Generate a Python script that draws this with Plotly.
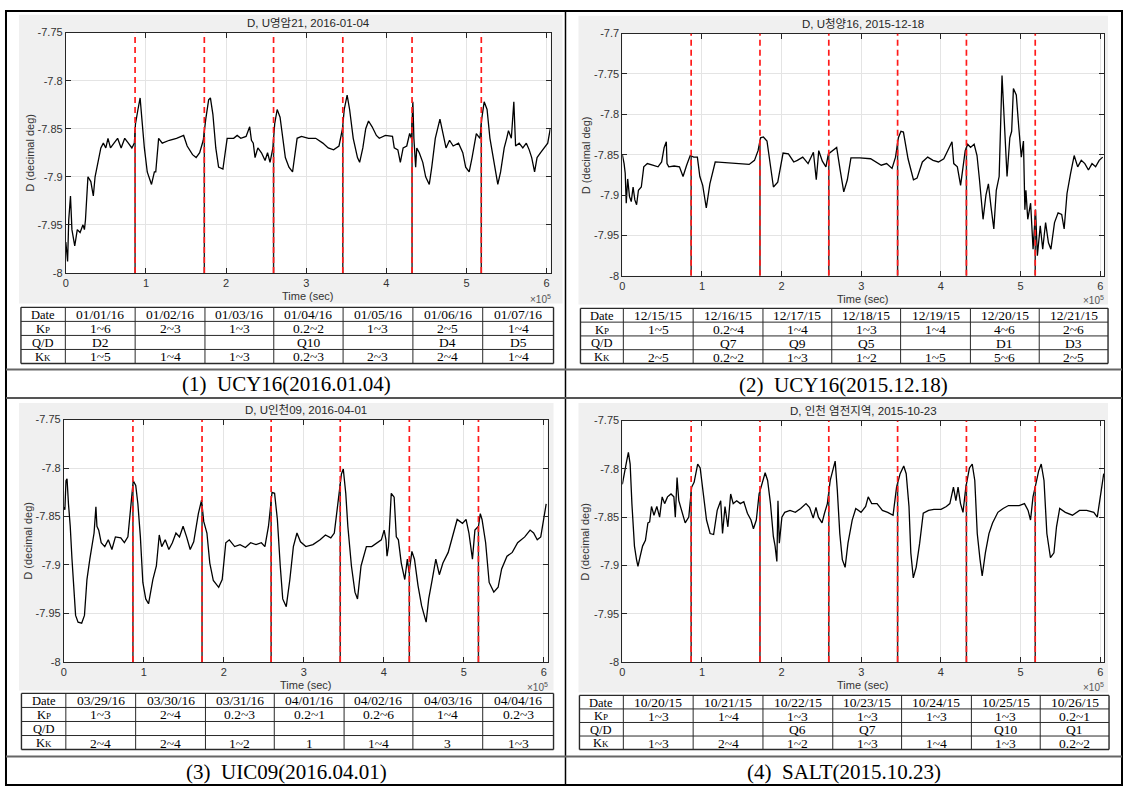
import plotly.graph_objects as go
import numpy as np

W, H = 1123, 792

# ---------------- data ----------------
# time in units of 1e5 s, D in decimal degrees
t1 = [0.000, 0.022, 0.036, 0.058, 0.076, 0.111, 0.143, 0.178, 0.214, 0.232, 0.245, 0.276, 0.312, 0.343, 0.365,
      0.392, 0.437, 0.468, 0.499, 0.526, 0.557, 0.601, 0.646, 0.690, 0.735, 0.780, 0.824, 0.855, 0.869, 0.900,
      0.927, 0.949, 0.980, 1.016, 1.069, 1.105, 1.122, 1.158, 1.203, 1.292, 1.381, 1.470, 1.514, 1.581, 1.626,
      1.670, 1.715, 1.746, 1.782, 1.804, 1.835, 1.871, 1.906, 1.960, 1.991, 2.013, 2.094, 2.138, 2.183, 2.249,
      2.294, 2.316, 2.339, 2.361, 2.396, 2.441, 2.486, 2.517, 2.548, 2.584, 2.606, 2.637, 2.673, 2.708, 2.739,
      2.784, 2.829, 2.886, 2.940, 3.029, 3.118, 3.207, 3.274, 3.341, 3.408, 3.452, 3.474, 3.510, 3.541, 3.586,
      3.639, 3.666, 3.706, 3.742, 3.777, 3.822, 3.875, 3.911, 3.987, 4.076, 4.098, 4.143, 4.174, 4.209, 4.254,
      4.290, 4.312, 4.330, 4.343, 4.365, 4.379, 4.410, 4.454, 4.490, 4.535, 4.566, 4.610, 4.668, 4.713, 4.744,
      4.788, 4.833, 4.900, 4.953, 4.989, 5.033, 5.069, 5.122, 5.167, 5.189, 5.220, 5.256, 5.292, 5.336, 5.390,
      5.425, 5.470, 5.501, 5.523, 5.559, 5.590, 5.612, 5.657, 5.702, 5.746, 5.782, 5.813, 5.849, 5.880, 5.924,
      5.969, 6.013, 6.045]
d1 = [-7.968, -7.988, -7.945, -7.920, -7.955, -7.972, -7.955, -7.958, -7.950, -7.955, -7.945, -7.900, -7.905, -7.920, -7.900,
      -7.890, -7.870, -7.865, -7.870, -7.860, -7.870, -7.865, -7.860, -7.870, -7.860, -7.865, -7.870, -7.865, -7.845, -7.830,
      -7.818, -7.840, -7.870, -7.895, -7.908, -7.895, -7.895, -7.860, -7.865, -7.862, -7.860, -7.857, -7.868, -7.877, -7.880,
      -7.875, -7.862, -7.840, -7.820, -7.818, -7.835, -7.870, -7.890, -7.892, -7.875, -7.860, -7.860, -7.857, -7.860, -7.858,
      -7.848, -7.862, -7.865, -7.880, -7.870, -7.875, -7.883, -7.875, -7.885, -7.870, -7.845, -7.830, -7.838, -7.860, -7.880,
      -7.890, -7.895, -7.860, -7.858, -7.860, -7.860, -7.865, -7.870, -7.872, -7.868, -7.850, -7.830, -7.815, -7.830, -7.860,
      -7.880, -7.885, -7.870, -7.850, -7.842, -7.848, -7.857, -7.860, -7.857, -7.858, -7.870, -7.872, -7.885, -7.870, -7.868,
      -7.855, -7.860, -7.822, -7.860, -7.890, -7.870, -7.875, -7.885, -7.900, -7.908, -7.890, -7.860, -7.840, -7.860, -7.870,
      -7.862, -7.868, -7.865, -7.875, -7.890, -7.895, -7.880, -7.855, -7.860, -7.840, -7.822, -7.830, -7.860, -7.880, -7.908,
      -7.895, -7.870, -7.860, -7.852, -7.860, -7.822, -7.868, -7.865, -7.870, -7.865, -7.872, -7.880, -7.895, -7.880, -7.875,
      -7.870, -7.865, -7.850]

t2 = [0.000, 0.022, 0.036, 0.049, 0.067, 0.090, 0.112, 0.135, 0.157, 0.179, 0.202, 0.238, 0.269, 0.314, 0.381,
      0.448, 0.493, 0.525, 0.552, 0.561, 0.583, 0.650, 0.717, 0.762, 0.807, 0.852, 0.897, 0.942, 0.973, 1.009,
      1.054, 1.099, 1.166, 1.278, 1.457, 1.592, 1.659, 1.704, 1.735, 1.771, 1.816, 1.852, 1.897, 1.951, 2.018,
      2.085, 2.152, 2.197, 2.265, 2.332, 2.399, 2.435, 2.466, 2.511, 2.556, 2.587, 2.646, 2.691, 2.735, 2.780,
      2.825, 2.870, 2.982, 3.117, 3.251, 3.318, 3.386, 3.430, 3.466, 3.498, 3.529, 3.587, 3.655, 3.700, 3.767,
      3.834, 3.901, 3.969, 4.036, 4.081, 4.139, 4.161, 4.206, 4.247, 4.274, 4.305, 4.336, 4.372, 4.417, 4.453,
      4.484, 4.529, 4.565, 4.596, 4.628, 4.664, 4.695, 4.731, 4.767, 4.798, 4.830, 4.865, 4.888, 4.910, 4.946,
      4.978, 5.009, 5.036, 5.054, 5.067, 5.090, 5.126, 5.157, 5.188, 5.211, 5.247, 5.278, 5.314, 5.350, 5.381,
      5.426, 5.471, 5.516, 5.547, 5.583, 5.628, 5.673, 5.717, 5.762, 5.807, 5.852, 5.897, 5.942, 5.987, 6.031]
d2 = [-7.850, -7.861, -7.873, -7.910, -7.880, -7.902, -7.908, -7.890, -7.906, -7.912, -7.894, -7.890, -7.865, -7.861, -7.863,
      -7.865, -7.859, -7.841, -7.834, -7.861, -7.865, -7.864, -7.865, -7.877, -7.863, -7.851, -7.853, -7.853, -7.877, -7.888,
      -7.916, -7.886, -7.859, -7.860, -7.861, -7.862, -7.857, -7.845, -7.829, -7.828, -7.833, -7.861, -7.890, -7.884, -7.848,
      -7.849, -7.859, -7.857, -7.853, -7.861, -7.847, -7.881, -7.845, -7.858, -7.865, -7.849, -7.845, -7.841, -7.869, -7.896,
      -7.881, -7.854, -7.854, -7.855, -7.863, -7.861, -7.867, -7.853, -7.829, -7.821, -7.822, -7.855, -7.881, -7.879, -7.859,
      -7.853, -7.857, -7.859, -7.855, -7.845, -7.834, -7.861, -7.865, -7.888, -7.865, -7.845, -7.837, -7.841, -7.837, -7.851,
      -7.881, -7.930, -7.900, -7.886, -7.914, -7.942, -7.894, -7.877, -7.752, -7.821, -7.877, -7.829, -7.821, -7.768, -7.776,
      -7.817, -7.853, -7.833, -7.918, -7.894, -7.930, -7.910, -7.967, -7.918, -7.975, -7.938, -7.967, -7.934, -7.959, -7.967,
      -7.934, -7.922, -7.924, -7.942, -7.898, -7.873, -7.851, -7.865, -7.857, -7.861, -7.869, -7.861, -7.865, -7.857, -7.853]

t3 = [0.000, 0.013, 0.027, 0.040, 0.058, 0.080, 0.102, 0.125, 0.147, 0.178, 0.223, 0.258, 0.289, 0.325, 0.356,
      0.378, 0.401, 0.414, 0.436, 0.467, 0.512, 0.556, 0.601, 0.645, 0.712, 0.757, 0.801, 0.846, 0.868, 0.899,
      0.926, 0.957, 0.988, 1.024, 1.059, 1.113, 1.157, 1.193, 1.224, 1.268, 1.313, 1.357, 1.402, 1.446, 1.491,
      1.535, 1.580, 1.624, 1.682, 1.722, 1.749, 1.789, 1.825, 1.869, 1.936, 1.980, 2.025, 2.069, 2.136, 2.203,
      2.270, 2.336, 2.403, 2.470, 2.514, 2.559, 2.603, 2.635, 2.670, 2.706, 2.737, 2.781, 2.826, 2.870, 2.915,
      2.959, 3.026, 3.115, 3.204, 3.271, 3.338, 3.382, 3.427, 3.471, 3.494, 3.525, 3.551, 3.596, 3.640, 3.672,
      3.716, 3.783, 3.850, 3.916, 3.970, 4.005, 4.028, 4.041, 4.059, 4.094, 4.130, 4.157, 4.183, 4.219, 4.263,
      4.295, 4.317, 4.352, 4.384, 4.428, 4.473, 4.530, 4.562, 4.606, 4.651, 4.695, 4.740, 4.806, 4.873, 4.918,
      4.984, 5.029, 5.065, 5.109, 5.140, 5.185, 5.207, 5.229, 5.274, 5.318, 5.376, 5.430, 5.474, 5.541, 5.607,
      5.674, 5.763, 5.830, 5.874, 5.919, 5.963, 5.999, 6.031]
d3 = [-7.840, -7.843, -7.813, -7.811, -7.837, -7.860, -7.894, -7.928, -7.952, -7.959, -7.960, -7.952, -7.915, -7.894, -7.877,
      -7.867, -7.840, -7.860, -7.864, -7.877, -7.881, -7.874, -7.884, -7.871, -7.872, -7.877, -7.871, -7.836, -7.813, -7.818,
      -7.837, -7.871, -7.918, -7.935, -7.940, -7.915, -7.901, -7.869, -7.881, -7.874, -7.884, -7.877, -7.867, -7.871, -7.860,
      -7.871, -7.884, -7.876, -7.847, -7.833, -7.855, -7.867, -7.898, -7.916, -7.923, -7.915, -7.877, -7.874, -7.881, -7.879,
      -7.882, -7.877, -7.879, -7.877, -7.881, -7.860, -7.825, -7.826, -7.853, -7.901, -7.935, -7.943, -7.915, -7.881, -7.867,
      -7.876, -7.881, -7.879, -7.874, -7.869, -7.872, -7.867, -7.836, -7.806, -7.801, -7.826, -7.860, -7.901, -7.928, -7.935,
      -7.901, -7.881, -7.881, -7.877, -7.874, -7.864, -7.874, -7.891, -7.881, -7.826, -7.830, -7.871, -7.874, -7.898, -7.915,
      -7.894, -7.908, -7.886, -7.894, -7.921, -7.942, -7.959, -7.935, -7.915, -7.894, -7.910, -7.898, -7.887, -7.867, -7.853,
      -7.857, -7.853, -7.867, -7.894, -7.864, -7.860, -7.847, -7.853, -7.877, -7.918, -7.928, -7.923, -7.904, -7.891, -7.887,
      -7.877, -7.871, -7.864, -7.867, -7.874, -7.871, -7.853, -7.837]

t4 = [0.000, 0.022, 0.054, 0.076, 0.098, 0.120, 0.152, 0.178, 0.196, 0.223, 0.254, 0.290, 0.321, 0.343, 0.366,
      0.397, 0.433, 0.468, 0.500, 0.531, 0.567, 0.611, 0.647, 0.665, 0.687, 0.709, 0.745, 0.789, 0.834, 0.870,
      0.901, 0.946, 0.977, 1.012, 1.057, 1.102, 1.146, 1.191, 1.235, 1.258, 1.289, 1.325, 1.360, 1.392, 1.436,
      1.481, 1.525, 1.570, 1.615, 1.646, 1.682, 1.717, 1.748, 1.793, 1.824, 1.860, 1.896, 1.918, 1.940, 1.954,
      1.971, 2.003, 2.039, 2.105, 2.172, 2.239, 2.306, 2.351, 2.396, 2.431, 2.462, 2.507, 2.538, 2.574, 2.610,
      2.641, 2.672, 2.699, 2.730, 2.762, 2.797, 2.833, 2.886, 2.931, 2.997, 3.055, 3.087, 3.131, 3.198, 3.265,
      3.332, 3.399, 3.443, 3.488, 3.533, 3.564, 3.599, 3.622, 3.653, 3.689, 3.733, 3.778, 3.845, 3.912, 4.001,
      4.068, 4.112, 4.157, 4.188, 4.215, 4.246, 4.277, 4.313, 4.358, 4.393, 4.425, 4.456, 4.491, 4.518, 4.558,
      4.603, 4.648, 4.715, 4.781, 4.848, 4.915, 4.982, 5.049, 5.094, 5.125, 5.156, 5.191, 5.227, 5.259, 5.294,
      5.330, 5.375, 5.419, 5.451, 5.491, 5.562, 5.651, 5.740, 5.830, 5.919, 5.963, 6.008, 6.044]
d4 = [-7.816, -7.805, -7.792, -7.783, -7.795, -7.836, -7.880, -7.894, -7.901, -7.891, -7.880, -7.874, -7.856, -7.855, -7.839,
      -7.848, -7.839, -7.850, -7.829, -7.836, -7.829, -7.826, -7.829, -7.850, -7.809, -7.833, -7.843, -7.856, -7.850, -7.819,
      -7.814, -7.795, -7.799, -7.822, -7.853, -7.867, -7.868, -7.843, -7.833, -7.867, -7.839, -7.860, -7.826, -7.836, -7.833,
      -7.836, -7.834, -7.846, -7.853, -7.862, -7.853, -7.826, -7.816, -7.804, -7.812, -7.836, -7.870, -7.880, -7.896, -7.833,
      -7.877, -7.850, -7.845, -7.843, -7.845, -7.841, -7.836, -7.840, -7.851, -7.840, -7.850, -7.856, -7.846, -7.836, -7.812,
      -7.802, -7.792, -7.822, -7.867, -7.894, -7.902, -7.877, -7.853, -7.841, -7.845, -7.839, -7.829, -7.836, -7.836, -7.843,
      -7.845, -7.848, -7.819, -7.805, -7.797, -7.805, -7.839, -7.887, -7.913, -7.902, -7.877, -7.846, -7.843, -7.842, -7.842,
      -7.839, -7.836, -7.819, -7.833, -7.819, -7.836, -7.845, -7.819, -7.799, -7.795, -7.812, -7.867, -7.894, -7.911, -7.887,
      -7.867, -7.856, -7.845, -7.841, -7.838, -7.838, -7.838, -7.836, -7.843, -7.853, -7.829, -7.816, -7.802, -7.795, -7.812,
      -7.867, -7.892, -7.887, -7.860, -7.841, -7.845, -7.848, -7.843, -7.843, -7.845, -7.850, -7.822, -7.805]

# day boundaries (midnight marks), x1e5 s
day_marks = [0.864, 1.728, 2.592, 3.456, 4.320, 5.184]
x_end = 6.048
xtick_vals = [0, 1, 2, 3, 4, 5, 6]
xtick_labels = ['0', '1', '2', '3', '4', '5', '6']
ytick_vals_a = [-8, -7.95, -7.9, -7.85, -7.8, -7.75]
ytick_labels_a = ['-8', '-7.95', '-7.9', '-7.85', '-7.8', '-7.75']
ytick_vals_b = [-8, -7.95, -7.9, -7.85, -7.8, -7.75, -7.7]
ytick_labels_b = ['-8', '-7.95', '-7.9', '-7.85', '-7.8', '-7.75', '-7.7']

titles = ["D, U영암21, 2016-01-04", "D, U청양16, 2015-12-18",
          "D, U인천09, 2016-04-01", "D, 인천 염전지역, 2015-10-23"]
captions = ["(1)  UCY16(2016.01.04)", "(2)  UCY16(2015.12.18)",
            "(3)  UIC09(2016.04.01)", "(4)  SALT(2015.10.23)"]
row_labels = ["Date", "K<span style='font-size:9px'>P</span>", "Q/D", "K<span style='font-size:9px'>K</span>"]

dates1 = ['01/01/16', '01/02/16', '01/03/16', '01/04/16', '01/05/16', '01/06/16', '01/07/16']
kp1 = ['1~6', '2~3', '1~3', '0.2~2', '1~3', '2~5', '1~4']
qd1 = ['D2', '', '', 'Q10', '', 'D4', 'D5']
kk1 = ['1~5', '1~4', '1~3', '0.2~3', '2~3', '2~4', '1~4']

dates2 = ['12/15/15', '12/16/15', '12/17/15', '12/18/15', '12/19/15', '12/20/15', '12/21/15']
kp2 = ['1~5', '0.2~4', '1~4', '1~3', '1~4', '4~6', '2~6']
qd2 = ['', 'Q7', 'Q9', 'Q5', '', 'D1', 'D3']
kk2 = ['2~5', '0.2~2', '1~3', '1~2', '1~5', '5~6', '2~5']

dates3 = ['03/29/16', '03/30/16', '03/31/16', '04/01/16', '04/02/16', '04/03/16', '04/04/16']
kp3 = ['1~3', '2~4', '0.2~3', '0.2~1', '0.2~6', '1~4', '0.2~3']
qd3 = ['', '', '', '', '', '', '']
kk3 = ['2~4', '2~4', '1~2', '1', '1~4', '3', '1~3']

dates4 = ['10/20/15', '10/21/15', '10/22/15', '10/23/15', '10/24/15', '10/25/15', '10/26/15']
kp4 = ['1~3', '1~4', '1~3', '1~3', '1~3', '1~3', '0.2~1']
qd4 = ['', '', 'Q6', 'Q7', '', 'Q10', 'Q1']
kk4 = ['1~3', '2~4', '1~2', '1~3', '1~4', '1~3', '0.2~2']

# ---------------- layout geometry (pixels) ----------------
panels = [
    dict(t=t1, d=d1, yv=ytick_vals_a, yl=ytick_labels_a, ymax=-7.75,
         gray=(16, 9, 561, 302), axes=(63, 27, 549, 271), title_y=17, ylab_x=27, xlab_y=294, x10=(551, 297),
         tx=[18, 62.5, 132.5, 202.5, 271.5, 341, 411, 481, 552], ty=[306, 320.25, 334.5, 348.75, 363],
         cap=(284, 384), rows=[dates1, kp1, qd1, kk1]),
    dict(t=t2, d=d2, yv=ytick_vals_b, yl=ytick_labels_b, ymax=-7.7,
         gray=(577, 10, 1108, 303), axes=(621, 28, 1104, 274), title_y=18, ylab_x=584, xlab_y=297, x10=(1106, 299),
         tx=[579, 622, 692, 762, 831, 900, 970, 1039, 1108], ty=[307, 321, 335, 349, 363],
         cap=(843, 385), rows=[dates2, kp2, qd2, kk2]),
    dict(t=t3, d=d3, yv=ytick_vals_a, yl=ytick_labels_a, ymax=-7.75,
         gray=(16, 403, 552, 695), axes=(61, 420, 546, 666), title_y=410, ylab_x=25, xlab_y=689, x10=(548, 691),
         tx=[18.5, 63, 133, 203, 272, 342, 411, 481, 552], ty=[698, 712.25, 726.5, 740.75, 755],
         cap=(284, 778), rows=[dates3, kp3, qd3, kk3]),
    dict(t=t4, d=d4, yv=ytick_vals_a, yl=ytick_labels_a, ymax=-7.75,
         gray=(577, 403, 1108, 697), axes=(621, 421, 1104, 666), title_y=411, ylab_x=584, xlab_y=689, x10=(1106, 691),
         tx=[578, 622, 692, 762, 832, 901, 971, 1040, 1109], ty=[700, 713.75, 727.5, 741.25, 755],
         cap=(843, 778), rows=[dates4, kp4, qd4, kk4]),
]


def fx(x):
    return x / W


def fy(y):
    return 1 - y / H


SANS = "Liberation Sans, Arial, Noto Sans CJK KR, sans-serif"
SERIF = "Liberation Serif, Times New Roman, serif"
AXC = "#262626"
TXT = "#333333"

fig = go.Figure()
shapes = []
ann = []
layout_axes = {}

for i, p in enumerate(panels):
    k = '' if i == 0 else str(i + 1)
    xr, yr = 'x' + k, 'y' + k
    ax0, ay0, ax1, ay1 = p['axes']
    g0, g1, g2, g3 = p['gray']

    # figure background (grey) and white axes area
    shapes.append(dict(type='rect', xref='paper', yref='paper', x0=fx(g0), x1=fx(g2), y0=fy(g3), y1=fy(g1),
                       fillcolor='#f0f0f0', line=dict(width=0), layer='below'))
    shapes.append(dict(type='rect', xref='paper', yref='paper', x0=fx(ax0), x1=fx(ax1), y0=fy(ay1), y1=fy(ay0),
                       fillcolor='white', line=dict(width=0), layer='below'))

    fig.add_trace(go.Scatter(x=p['t'], y=p['d'], mode='lines', line=dict(color='black', width=1.3),
                             xaxis=xr, yaxis=yr, showlegend=False, hoverinfo='skip'))

    layout_axes['xaxis' + k] = dict(
        domain=[fx(ax0), fx(ax1)], anchor=yr, range=[0, x_end], tickvals=xtick_vals, ticktext=xtick_labels,
        showline=True, mirror='ticks', linecolor=AXC, linewidth=1, ticks='inside', ticklen=5, tickcolor=AXC,
        showgrid=True, gridcolor='#e4e4e4', gridwidth=1, zeroline=False,
        tickfont=dict(family=SANS, size=11, color=TXT), fixedrange=True)
    layout_axes['yaxis' + k] = dict(
        domain=[fy(ay1), fy(ay0)], anchor=xr, range=[-8, p['ymax']], tickvals=p['yv'], ticktext=p['yl'],
        showline=True, mirror='ticks', linecolor=AXC, linewidth=1, ticks='inside', ticklen=5, tickcolor=AXC,
        showgrid=True, gridcolor='#e4e4e4', gridwidth=1, zeroline=False,
        tickfont=dict(family=SANS, size=11, color=TXT), fixedrange=True)

    # midnight marks: dark stem below curve and red dashed line on top
    for m in day_marks:
        yc = float(np.interp(m, p['t'], p['d']))
        shapes.append(dict(type='line', xref=xr, yref=yr, x0=m, x1=m, y0=-8, y1=yc,
                           line=dict(color='#222222', width=1.4), layer='above'))
        shapes.append(dict(type='line', xref=xr, yref=yr, x0=m, x1=m, y0=-8, y1=p['ymax'],
                           line=dict(color='#ff1a1a', width=1.7, dash='6px,4px'), layer='above'))

    cx = (ax0 + ax1) / 2
    ann.append(dict(x=fx(cx), y=fy(p['title_y']), xref='paper', yref='paper', text=titles[i], showarrow=False,
                    xanchor='center', yanchor='middle', font=dict(family=SANS, size=11.5, color=AXC)))
    ann.append(dict(x=fx(p['ylab_x']), y=fy((ay0 + ay1) / 2), xref='paper', yref='paper', text='D (decimal deg)',
                    textangle=-90, showarrow=False, xanchor='center', yanchor='middle',
                    font=dict(family=SANS, size=11, color=TXT)))
    ann.append(dict(x=fx(cx), y=fy(p['xlab_y']), xref='paper', yref='paper', text='Time (sec)', showarrow=False,
                    xanchor='center', yanchor='middle', font=dict(family=SANS, size=11, color=TXT)))
    ann.append(dict(x=fx(p['x10'][0]), y=fy(p['x10'][1]), xref='paper', yref='paper', text='×10<sup>5</sup>',
                    showarrow=False, xanchor='right', yanchor='middle', font=dict(family=SANS, size=10, color='#555555')))

    # table
    tx, ty = p['tx'], p['ty']
    for j, yv in enumerate(ty):
        w = 1.4 if j in (0, len(ty) - 1) else 1
        shapes.append(dict(type='line', xref='paper', yref='paper', x0=fx(tx[0]), x1=fx(tx[-1]), y0=fy(yv), y1=fy(yv),
                           line=dict(color='#2a2a2a', width=w)))
    for j, xv in enumerate(tx):
        w = 1.4 if j in (0, len(tx) - 1) else 1
        shapes.append(dict(type='line', xref='paper', yref='paper', x0=fx(xv), x1=fx(xv), y0=fy(ty[0]), y1=fy(ty[-1]),
                           line=dict(color='#2a2a2a', width=w)))
    for r in range(4):
        ymid = (ty[r] + ty[r + 1]) / 2
        ann.append(dict(x=fx((tx[0] + tx[1]) / 2), y=fy(ymid + 0.5), xref='paper', yref='paper', text=row_labels[r],
                        showarrow=False, xanchor='center', yanchor='middle',
                        font=dict(family=SERIF, size=12.5, color='black')))
        for c in range(7):
            val = p['rows'][r][c]
            if val == '':
                continue
            ann.append(dict(x=fx((tx[c + 1] + tx[c + 2]) / 2), y=fy(ymid + 0.5), xref='paper', yref='paper',
                            text=val, showarrow=False, xanchor='center', yanchor='middle',
                            font=dict(family=SERIF, size=13.5, color='black')))

    ann.append(dict(x=fx(p['cap'][0]), y=fy(p['cap'][1]), xref='paper', yref='paper', text=captions[i],
                    showarrow=False, xanchor='center', yanchor='middle',
                    font=dict(family=SERIF, size=21, color='black')))

# page frame
shapes.append(dict(type='rect', xref='paper', yref='paper', x0=fx(3), x1=fx(1122), y0=fy(791), y1=fy(5),
                   line=dict(color='black', width=2), fillcolor='rgba(0,0,0,0)'))
shapes.append(dict(type='line', xref='paper', yref='paper', x0=fx(564), x1=fx(564), y0=fy(791), y1=fy(5),
                   line=dict(color='black', width=1.5)))
for yv in (369, 762):
    shapes.append(dict(type='line', xref='paper', yref='paper', x0=fx(3), x1=fx(1122), y0=fy(yv), y1=fy(yv),
                       line=dict(color='#666666', width=2)))
shapes.append(dict(type='line', xref='paper', yref='paper', x0=fx(3), x1=fx(1122), y0=fy(398), y1=fy(398),
                   line=dict(color='#555555', width=2)))

fig.update_layout(width=W, height=H, margin=dict(l=0, r=0, t=0, b=0), paper_bgcolor='white',
                  plot_bgcolor='white', shapes=shapes, annotations=ann, showlegend=False, **layout_axes)

fig.write_html("out.html", config={'displayModeBar': False},
               post_script="document.body.style.margin='0px';document.body.style.overflow='hidden';")
